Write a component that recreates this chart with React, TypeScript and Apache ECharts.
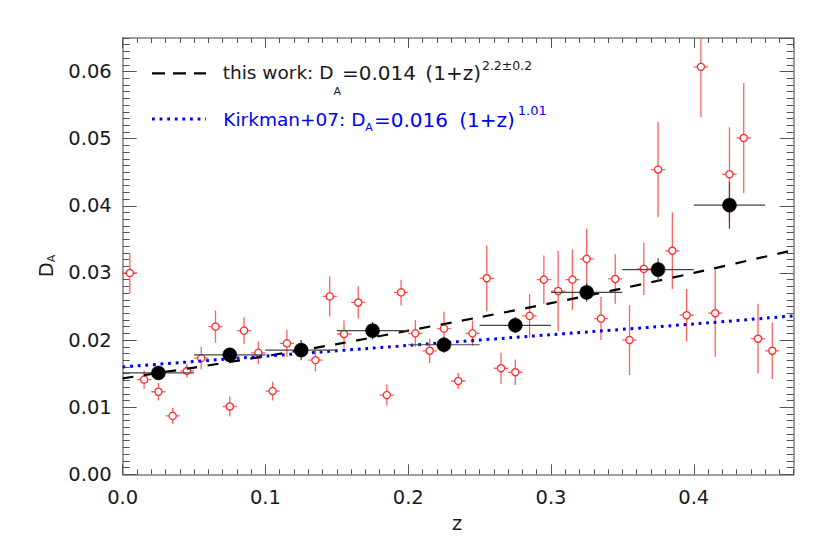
import React, { useEffect, useRef } from 'react';
import * as echarts from 'echarts';

// Individual measurements (red open circles)
const redZ = [0.005, 0.015, 0.025, 0.035, 0.045, 0.055, 0.065, 0.075, 0.085, 0.095, 0.105, 0.115, 0.135, 0.145, 0.155, 0.165, 0.185, 0.195, 0.205, 0.215, 0.225, 0.235, 0.245, 0.255, 0.265, 0.275, 0.285, 0.295, 0.305, 0.315, 0.325, 0.335, 0.345, 0.355, 0.365, 0.375, 0.385, 0.395, 0.405, 0.415, 0.425, 0.435, 0.445, 0.455];
const redD = [0.0300, 0.0141, 0.0123, 0.0087, 0.0154, 0.0173, 0.0220, 0.0101, 0.0214, 0.0181, 0.0124, 0.0195, 0.0170, 0.0265, 0.0209, 0.0256, 0.0118, 0.0271, 0.0210, 0.0184, 0.0217, 0.0139, 0.0210, 0.0292, 0.0158, 0.0152, 0.0236, 0.0290, 0.0273, 0.0290, 0.0321, 0.0232, 0.0291, 0.0200, 0.0306, 0.0454, 0.0333, 0.0237, 0.0607, 0.0240, 0.0447, 0.0501, 0.0202, 0.0184];
const redErr = [0.0030, 0.0014, 0.0013, 0.0012, 0.0010, 0.0017, 0.0024, 0.0015, 0.0020, 0.0017, 0.0014, 0.0020, 0.0017, 0.0030, 0.0020, 0.0024, 0.0016, 0.0019, 0.0020, 0.0018, 0.0025, 0.0012, 0.0019, 0.0049, 0.0023, 0.0019, 0.0033, 0.0036, 0.0060, 0.0045, 0.0045, 0.0032, 0.0037, 0.0052, 0.0039, 0.0071, 0.0057, 0.0039, 0.0075, 0.0065, 0.0070, 0.0082, 0.0052, 0.0042];
const redZErr = [0.005];

// Binned values (black filled circles)
const binZ = [0.025, 0.075, 0.125, 0.175, 0.225, 0.275, 0.325, 0.375, 0.425];
const binD = [0.0151, 0.0178, 0.0185, 0.0214, 0.0193, 0.0222, 0.0271, 0.0305, 0.0401];
const binErr = [0.0008, 0.0010, 0.0015, 0.0013, 0.0012, 0.0012, 0.0014, 0.0017, 0.0035];
const binZErr = [0.025];

// Fit lines
const fitZ = [0, 0.05, 0.1, 0.15, 0.2, 0.25, 0.3, 0.35, 0.4, 0.47];
const fitD = [0.0143, 0.0159, 0.0176, 0.0194, 0.0214, 0.0234, 0.0255, 0.0277, 0.0300, 0.0334];
const kirkZ = [0, 0.1, 0.2, 0.3, 0.4, 0.47];
const kirkD = [0.0160, 0.0176, 0.0192, 0.0208, 0.0224, 0.0236];

const F = '"DejaVu Sans", sans-serif';
const TXT = '#1a1a1a';
const AXC = '#808080';
const TKC = '#555';
const BLUE = '#0000ff';

function xAx(position: string, interval: number, len: number, labels: boolean, line: boolean) {
  return {
    type: 'value', position, min: 0, max: 0.47, interval,
    axisLine: { show: line, onZero: false, lineStyle: { color: AXC, width: 1.5 } },
    axisTick: { show: true, inside: true, length: len, lineStyle: { color: TKC, width: 1 } },
    axisLabel: labels ? { show: true, formatter: (v: number) => v.toFixed(1), showMaxLabel: false, margin: 13, fontSize: 19.5, fontFamily: F, color: TXT } : { show: false },
    splitLine: { show: false },
  };
}
function yAx(position: string, interval: number, len: number, labels: boolean, line: boolean) {
  return {
    type: 'value', position, min: 0, max: 0.065, interval,
    axisLine: { show: line, onZero: false, lineStyle: { color: AXC, width: 1.5 } },
    axisTick: { show: true, inside: true, length: len, lineStyle: { color: TKC, width: 1 } },
    axisLabel: labels ? { show: true, formatter: (v: number) => v.toFixed(2), showMaxLabel: false, margin: 11, fontSize: 19.5, fontFamily: F, color: TXT } : { show: false },
    splitLine: { show: false },
  };
}

function legendRich(fill: string, subPad: number, supPad: number, gap: number, supGap: number, supSize: number) {
  return {
    n: { fontFamily: F, fontSize: 18.5, lineHeight: 40, fill },
    m: { fontFamily: F, fontSize: 20, lineHeight: 40, fill, padding: [0, 0, 0, 1] },
    q: { fontFamily: F, fontSize: 20, lineHeight: 40, fill, padding: [0, 0, 0, gap] },
    s: { fontFamily: F, fontSize: 11, lineHeight: 10, verticalAlign: 'top', padding: [subPad, 0, 0, 0], fill },
    p: { fontFamily: F, fontSize: supSize, lineHeight: 10, verticalAlign: 'top', padding: [supPad, 0, 0, supGap], fill },
  };
}

export default function App() {
  const ref = useRef<HTMLDivElement>(null);
  useEffect(() => {
    if (!ref.current) return;
    const chart = echarts.init(ref.current, undefined, { renderer: 'svg' });
    const redData = redZ.map((z, i) => [z, redD[i], redErr[i], redZErr[0]]);
    const binData = binZ.map((z, i) => [z, binD[i], binErr[i], binZErr[0]]);
    const option: any = {
      animation: false,
      backgroundColor: '#fff',
      grid: { left: 122.7, top: 38, right: 36.3, bottom: 78.7, containLabel: false },
      xAxis: [
        xAx('bottom', 0.1, 10, true, true),
        xAx('bottom', 0.01, 5, false, false),
        xAx('top', 0.1, 10, false, true),
        xAx('top', 0.01, 5, false, false),
      ],
      yAxis: [
        yAx('left', 0.01, 14, true, true),
        yAx('left', 0.001, 7, false, false),
        yAx('right', 0.01, 14, false, true),
        yAx('right', 0.001, 7, false, false),
      ],
      series: [
        {
          type: 'custom', name: 'individual', xAxisIndex: 0, yAxisIndex: 0, clip: true, z: 2,
          data: redData, encode: { x: 0, y: 1 },
          renderItem: (params: any, api: any) => {
            const x = api.value(0), y = api.value(1), ey = api.value(2), ex = api.value(3);
            const c = api.coord([x, y]);
            const t = api.coord([x, y + ey]);
            const b = api.coord([x, y - ey]);
            const l = api.coord([x - ex, y]);
            const r = api.coord([x + ex, y]);
            return {
              type: 'group', children: [
                { type: 'line', shape: { x1: c[0], y1: t[1], x2: c[0], y2: b[1] }, style: { stroke: '#ff6060', lineWidth: 1.3 } },
                { type: 'line', shape: { x1: l[0], y1: c[1], x2: r[0], y2: c[1] }, style: { stroke: '#ff6060', lineWidth: 1.3 } },
                { type: 'circle', shape: { cx: c[0], cy: c[1], r: 3.6 }, style: { fill: '#fff', stroke: '#ff2a2a', lineWidth: 1.3 } },
              ],
            };
          },
        },
        {
          type: 'line', name: 'this work', xAxisIndex: 0, yAxisIndex: 0, z: 3,
          data: fitZ.map((z, i) => [z, fitD[i]]), smooth: 0.3, showSymbol: false, symbol: 'none',
          lineStyle: { color: '#000', width: 2.2, type: [11, 10.5] },
        },
        {
          type: 'line', name: 'Kirkman+07', xAxisIndex: 0, yAxisIndex: 0, z: 3,
          data: kirkZ.map((z, i) => [z, kirkD[i]]), smooth: 0.3, showSymbol: false, symbol: 'none',
          lineStyle: { color: BLUE, width: 3, type: [2.8, 4.8] },
        },
        {
          type: 'custom', name: 'binned', xAxisIndex: 0, yAxisIndex: 0, clip: true, z: 4,
          data: binData, encode: { x: 0, y: 1 },
          renderItem: (params: any, api: any) => {
            const x = api.value(0), y = api.value(1), ey = api.value(2), ex = api.value(3);
            const c = api.coord([x, y]);
            const t = api.coord([x, y + ey]);
            const b = api.coord([x, y - ey]);
            const l = api.coord([x - ex, y]);
            const r = api.coord([x + ex, y]);
            return {
              type: 'group', children: [
                { type: 'line', shape: { x1: c[0], y1: t[1], x2: c[0], y2: b[1] }, style: { stroke: '#444', lineWidth: 1.2 } },
                { type: 'line', shape: { x1: l[0], y1: c[1], x2: r[0], y2: c[1] }, style: { stroke: '#444', lineWidth: 1.2 } },
                { type: 'circle', shape: { cx: c[0], cy: c[1], r: 7 }, style: { fill: '#000', stroke: '#000', lineWidth: 0.5 } },
              ],
            };
          },
        },
      ],
      graphic: [
        { type: 'line', shape: { x1: 152, y1: 73.3, x2: 206, y2: 73.3 }, style: { stroke: '#000', lineWidth: 2.2, lineDash: [13, 8] } },
        { type: 'line', shape: { x1: 152, y1: 119, x2: 206, y2: 119 }, style: { stroke: BLUE, lineWidth: 3, lineDash: [2.8, 4.8] } },
        {
          type: 'text', x: 222.7, y: 52.7,
          style: {
            text: '{n|this work: D}{s|A}{m|=0.014 }{q|(1+z)}{p|2.2±0.2}',
            align: 'left', verticalAlign: 'top', fill: TXT,
            rich: legendRich(TXT, 33.5, 6.3, 3, 1, 12.5),
          },
        },
        {
          type: 'text', x: 223.3, y: 99.7,
          style: {
            text: '{n|Kirkman+07: D}{s|A}{m|=0.016 }{q|(1+z)}{p|1.01}',
            align: 'left', verticalAlign: 'top', fill: BLUE,
            rich: legendRich(BLUE, 22.3, 4.3, 5, 3, 13),
          },
        },
        {
          type: 'text', x: 46, y: 266, rotation: Math.PI / 2,
          style: {
            text: '{n|D}{s|A}', align: 'center', verticalAlign: 'middle', fill: TXT,
            rich: {
              n: { fontFamily: F, fontSize: 19.5, lineHeight: 24, fill: TXT },
              s: { fontFamily: F, fontSize: 11, lineHeight: 10, verticalAlign: 'top', padding: [12, 0, 0, 0], fill: TXT },
            },
          },
        },
        {
          type: 'text', x: 457, y: 523.5,
          style: { text: 'z', align: 'center', verticalAlign: 'middle', fontFamily: F, fontSize: 19.5, fill: TXT },
        },
      ],
    };
    chart.setOption(option);
    return () => chart.dispose();
  }, []);
  return <div ref={ref} style={{ position: 'fixed', left: 0, top: 0, width: 830, height: 553, background: '#fff' }} />;
}
